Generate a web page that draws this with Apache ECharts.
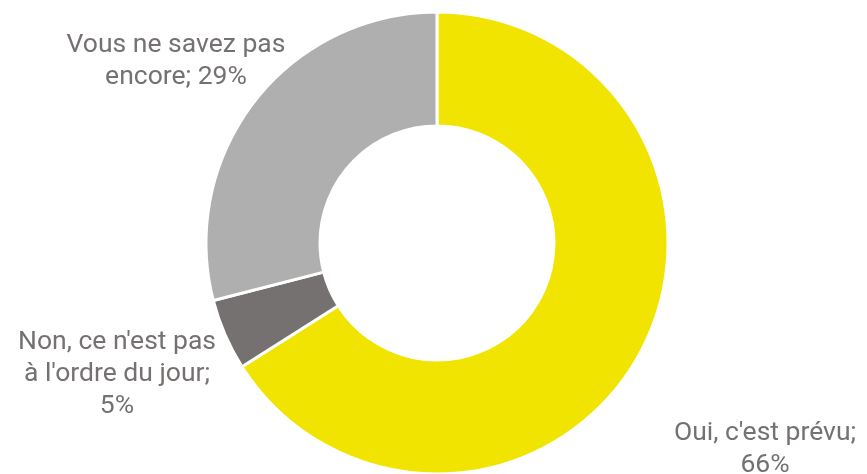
<!DOCTYPE html>
<html><head><meta charset="utf-8">
<script src="https://cdn.jsdelivr.net/npm/echarts@6/dist/echarts.min.js"></script>
<style>html,body{margin:0;padding:0;background:#fff}#c{width:867px;height:474px}</style>
</head><body><div id="c"></div>
<script>
const categories = ["Oui, c'est prévu", "Non, ce n'est pas à l'ordre du jour", "Vous ne savez pas encore"];
const values = [66, 5, 29];
const labelTexts = ["Oui, c'est prévu;\n66%", "Non, ce n'est pas\nà l'ordre du jour;\n5%", "Vous ne savez pas\nencore; 29%"];
const colors = ['#F0E400', '#767171', '#AFAFAF'];
const labelPos = [[765, 449], [117, 374], [176, 61]];

const chart = echarts.init(document.getElementById('c'));
chart.setOption({
  animation: false,
  series: [{
    type: 'pie',
    center: [437, 243],
    radius: [117, 231],
    startAngle: 90,
    clockwise: true,
    avoidLabelOverlap: false,
    itemStyle: { borderColor: '#fff', borderWidth: 3 },
    label: {
      show: true,
      position: 'outside',
      formatter: p => labelTexts[p.dataIndex],
      color: '#757171',
      fontFamily: 'Roboto',
      fontSize: 26.5,
      lineHeight: 32,
      align: 'center',
      overflow: 'none',
      width: 400
    },
    labelLine: { show: false },
    labelLayout: p => ({ x: labelPos[p.dataIndex][0], y: labelPos[p.dataIndex][1], align: 'center', verticalAlign: 'middle' }),
    data: categories.map((c, i) => ({ name: c, value: values[i], itemStyle: { color: colors[i] } }))
  }]
});
</script></body></html>
